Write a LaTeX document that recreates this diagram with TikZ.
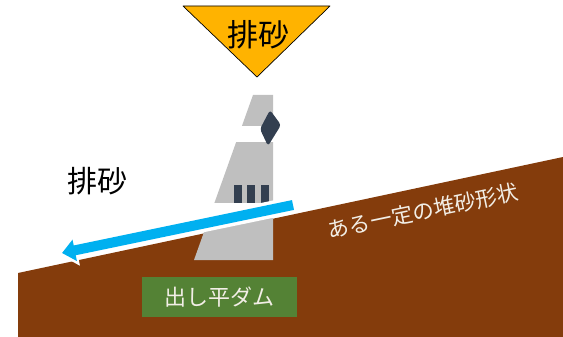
\documentclass[tikz,border=0pt]{standalone}
\usepackage{fontspec}
\newfontfamily\jpfont{Noto Sans CJK JP}
\usepackage{tkz-euclide}
\usetikzlibrary{arrows.meta}
\definecolor{sediment}{HTML}{843C0C}
\definecolor{damgray}{HTML}{BFBFBF}
\definecolor{gatenavy}{HTML}{333F50}
\definecolor{flushblue}{HTML}{00B0F0}
\definecolor{signgold}{HTML}{FFB300}
\definecolor{labelgreen}{HTML}{548235}
\definecolor{paletext}{HTML}{F2EEE6}

\begin{document}
\begin{tikzpicture}[x=1pt,y=-1pt,
    jplabel/.style={font=\jpfont\fontsize{#1}{#1}\selectfont,inner sep=0pt}]
  \useasboundingbox (0,0) rectangle (563,337);
  % riverbed
  \tkzDefPoint(18,273){g1}
  \tkzDefPoint(563,157){g2}
  \tkzDefPoint(563,337){g3}
  \tkzDefPoint(18,337){g4}
  \tkzFillPolygon[fill=sediment](g1,g2,g3,g4)
  % dam body, cut by two white bands
  \tkzDefPoint(253,95){d1}
  \tkzDefPoint(273,95){d2}
  \tkzDefPoint(273,260){d3}
  \tkzDefPoint(194,260){d4}
  \tkzFillPolygon[fill=damgray](d1,d2,d3,d4)
  \fill[white] (190,126) rectangle (274,142);
  \fill[white] (190,203) rectangle (274,218);
  % gate
  \fill[gatenavy,rounded corners=3pt] (270,110) -- (281,125) -- (268,146) -- (260,129) -- cycle;
  % outlets
  \foreach \x in {234,247,261}
    \fill[gatenavy] (\x,185) rectangle (\x+8,203);
  % flushing flow
  \coordinate (flowin) at (293,205);
  \coordinate (flowout) at (62,253);
  \draw[white,line width=17pt,shorten >=-4pt,-{Triangle[length=19pt,width=31pt]}] (flowin) -- (flowout);
  \draw[flushblue,line width=10pt,-{Triangle[length=13pt,width=21pt]}] (flowin) -- (flowout);
  % sign at the top
  \tkzDefPoint(183,6){t1}
  \tkzDefPoint(330,6){t2}
  \tkzDefPoint(257,77){t3}
  \tkzDrawPolygon[fill=signgold,draw=black,line width=0.7pt](t1,t2,t3)
  \node[jplabel=31] (signtext) at (258,35) {排砂};
  \node[jplabel=30] (flowtext) at (97,181) {排砂};
  \node[jplabel=21.5,text=paletext,rotate=11.7] (slopetext) at (423,211) {ある一定の堆砂形状};
  \node[jplabel=22,fill=labelgreen,text=paletext,minimum width=155pt,minimum height=40pt] (damname) at (219.5,297) {出し平ダム};
\end{tikzpicture}
\end{document}
